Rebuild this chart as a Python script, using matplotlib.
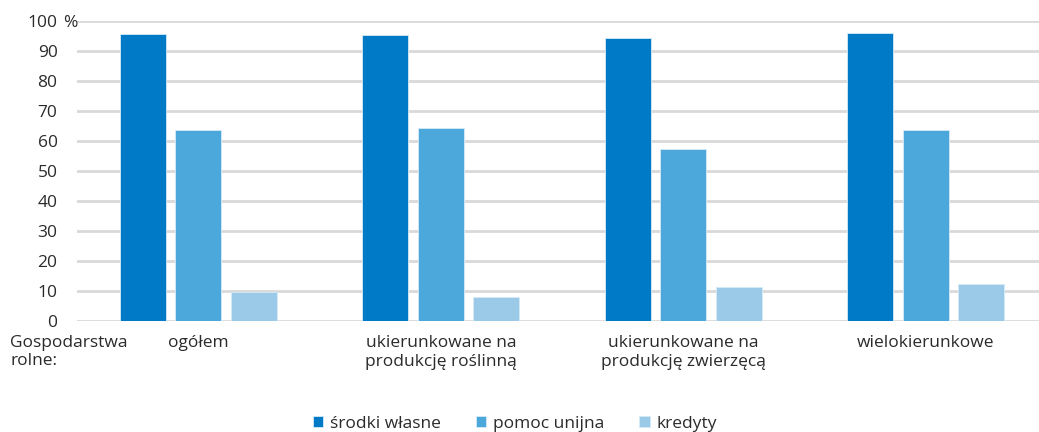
import numpy as np
import matplotlib
matplotlib.use('Agg')
import matplotlib.pyplot as plt

plt.rcParams['font.family'] = ['Open Sans', 'DejaVu Sans']

# ============================================================
# DATA
# ============================================================
categories = ['ogółem', 'ukierunkowane na\nprodukcję roślinną',
              'ukierunkowane na\nprodukcję zwierzęcą', 'wielokierunkowe']
series_names = ['środki własne', 'pomoc unijna', 'kredyty']
srodki_wlasne = [95.6, 95.3, 94.3, 96.1]
pomoc_unijna = [63.7, 64.4, 57.2, 63.7]
kredyty = [9.8, 8.1, 11.4, 12.3]
y_ticks = [0, 10, 20, 30, 40, 50, 60, 70, 80, 90, 100]

colors = ['#0079C7', '#4CA7DA', '#9BC9E8']
FS = 12.5
TXT = '#2a2a2a'

# ============================================================
# PLOT
# ============================================================
W, H = 1039, 432
fig = plt.figure(figsize=(W / 100, H / 100), dpi=100)
ax = fig.add_axes([77 / W, 111 / H, 1 - 77 / W, 300 / H])

x = np.arange(len(categories))
offset = 0.228
width = 0.19
for i, (vals, name) in enumerate(zip([srodki_wlasne, pomoc_unijna, kredyty], series_names)):
    ax.bar(x + (i - 1) * offset, vals, width, color=colors[i], label=name,
           edgecolor='#d6ebf7', linewidth=0.6, zorder=3)

ax.set_xlim(-0.5, 3.5 - 8 / 242.5)
ax.set_ylim(0, 100)
ax.set_yticks(y_ticks)
ax.set_yticklabels([str(t) for t in y_ticks], fontsize=FS, color=TXT)
ax.tick_params(axis='y', length=0, pad=14)
ax.set_xticks([])
ax.grid(axis='y', color='#d9d9d9', linewidth=2, zorder=0)
for s in ax.spines.values():
    s.set_visible(False)

ax.text(-0.5 - 14 / 242.5, 100, '%', fontsize=FS, color=TXT,
        ha='left', va='center_baseline', clip_on=False)

for xi, cat in zip(x, categories):
    ax.text(xi, -4.8, cat, ha='center', va='top', fontsize=FS,
            color=TXT, linespacing=1.2, clip_on=False)
fig.text(10 / W, 1 - 335 / H, 'Gospodarstwa\nrolne:', ha='left', va='top',
         fontsize=FS, color=TXT, linespacing=1.2)

fig.legend(loc='center', bbox_to_anchor=(515 / W, 1 - 424 / H), ncol=3,
           frameon=False, fontsize=FS, handlelength=0.6, handleheight=0.6,
           handletextpad=0.4, columnspacing=2.0, labelcolor=TXT)

fig.savefig('out.png', dpi=100)
